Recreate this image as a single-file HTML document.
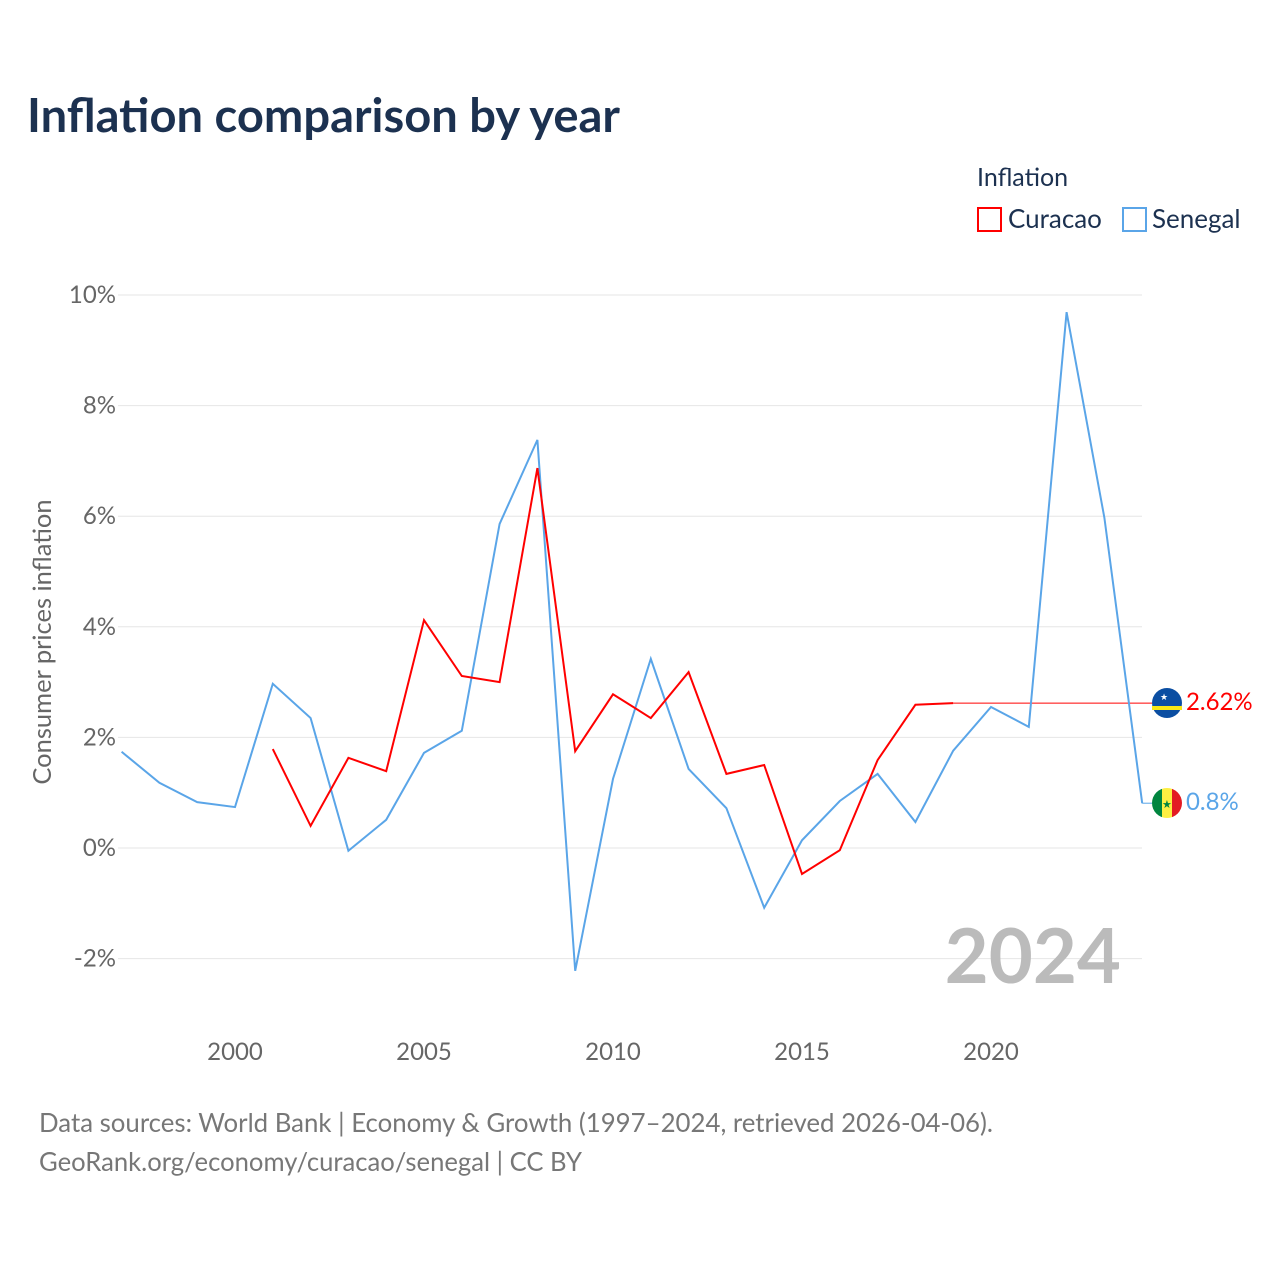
<!DOCTYPE html>
<html><head><meta charset="utf-8"><style>
body{margin:0;background:#fff;font-family:"Liberation Sans",sans-serif;}
svg text{font-family:"Lato","Liberation Sans",sans-serif;}
</style></head><body>
<svg id="chart" width="1280" height="1280" viewBox="0 0 1280 1280">
<text x="27" y="132" font-size="47" font-weight="bold" fill="#1c3150" textLength="593" lengthAdjust="spacingAndGlyphs">Inflation comparison by year</text>
<text x="977" y="186" font-size="25" fill="#1c3150">Inflation</text>
<g><rect x="978" y="208" width="23" height="23" fill="none" stroke="#f00" stroke-width="2"/><text x="1008" y="228" font-size="26" fill="#1c3150">Curacao</text></g>
<g><rect x="1123" y="208" width="23" height="23" fill="none" stroke="#5aa5e8" stroke-width="2"/><text x="1152" y="228" font-size="26" fill="#1c3150">Senegal</text></g>
<g id="grid"></g><g id="xticks"></g>
<text transform="translate(51,642) rotate(-90)" text-anchor="middle" font-size="25.5" fill="#666">Consumer prices inflation</text>
<text x="1121" y="983" text-anchor="end" font-size="76" font-weight="bold" fill="#bbb">2024</text>
<g id="series"></g>
<g><circle cx="1167" cy="703" r="15" fill="#0b4ea2"/><rect x="1152" y="706" width="30" height="4" fill="#f9e814"/><text x="1160" y="700" font-size="9" fill="#fff">★</text></g>
<g><clipPath id="cs"><circle cx="1167" cy="803" r="15"/></clipPath><g clip-path="url(#cs)"><rect x="1152" y="788" width="10" height="30" fill="#00853f"/><rect x="1162" y="788" width="10" height="30" fill="#fdef42"/><rect x="1172" y="788" width="10" height="30" fill="#e31b23"/></g><text x="1162" y="808" font-size="11" fill="#00853f">★</text></g>
<text x="1186" y="710" font-size="24" fill="#f00">2.62%</text>
<text x="1186" y="810" font-size="24" fill="#5aa5e8">0.8%</text>
<text x="39" y="1132" font-size="26" fill="#777" textLength="954" lengthAdjust="spacingAndGlyphs">Data sources: World Bank | Economy &amp; Growth (1997–2024, retrieved 2026-04-06).</text>
<text x="39" y="1171" font-size="26" fill="#777" textLength="543" lengthAdjust="spacingAndGlyphs">GeoRank.org/economy/curacao/senegal | CC BY</text>
</svg>
<script>
const yTicks=[-2,0,2,4,6,8,10];
const xTicks=[2000,2005,2010,2015,2020];
const senegalYears=[1997,1998,1999,2000,2001,2002,2003,2004,2005,2006,2007,2008,2009,2010,2011,2012,2013,2014,2015,2016,2017,2018,2019,2020,2021,2022,2023,2024];
const senegalValues=[1.74,1.18,0.83,0.74,2.97,2.35,-0.05,0.51,1.72,2.12,5.86,7.38,-2.22,1.25,3.42,1.43,0.72,-1.08,0.14,0.85,1.34,0.47,1.76,2.55,2.19,9.69,5.97,0.81];
const curacaoYears=[2001,2002,2003,2004,2005,2006,2007,2008,2009,2010,2011,2012,2013,2014,2015,2016,2017,2018,2019];
const curacaoValues=[1.79,0.40,1.63,1.39,4.12,3.11,3.00,6.87,1.75,2.78,2.35,3.18,1.34,1.50,-0.47,-0.04,1.59,2.59,2.62];
const NS='http://www.w3.org/2000/svg';
const x=yr=>121.6+(yr-1997)*37.8;
const y=v=>848-v*55.3;
function mk(t,a,p){const e=document.createElementNS(NS,t);for(const k in a)e.setAttribute(k,a[k]);p.appendChild(e);return e;}
const g=document.getElementById('grid');
yTicks.forEach(v=>{
 const l=mk('line',{x1:118,x2:1142,y1:y(v),y2:y(v),stroke:'#e6e6e6','stroke-width':1},g);
 
 
 const t=mk('text',{x:116,y:y(v)+8,'text-anchor':'end','font-size':24,fill:'#666'},g);
 
 
 t.textContent=v+'%';
});
const xt=document.getElementById('xticks');
xTicks.forEach(v=>{
 const t=mk('text',{x:x(v),y:1060,'text-anchor':'middle','font-size':24,fill:'#666'},xt);
 
 
 t.textContent=v;
});
const s=document.getElementById('series');
const lastC=curacaoValues[curacaoValues.length-1];
const cf=mk('line',{x1:x(curacaoYears[curacaoYears.length-1]),x2:1152,y1:y(lastC),y2:y(lastC),stroke:'#f00','stroke-width':1},s);


const lastS=senegalValues[senegalValues.length-1];
const sf=mk('line',{x1:x(2024),x2:1152,y1:y(lastS),y2:y(lastS),stroke:'#5aa5e8','stroke-width':1},s);


const ps=mk('polyline',{points:senegalYears.map((yr,i)=>x(yr)+','+y(senegalValues[i])).join(' '),fill:'none',stroke:'#5aa5e8','stroke-width':2},s);


const pc=mk('polyline',{points:curacaoYears.map((yr,i)=>x(yr)+','+y(curacaoValues[i])).join(' '),fill:'none',stroke:'#f00','stroke-width':2},s);


</script>
</body></html>
